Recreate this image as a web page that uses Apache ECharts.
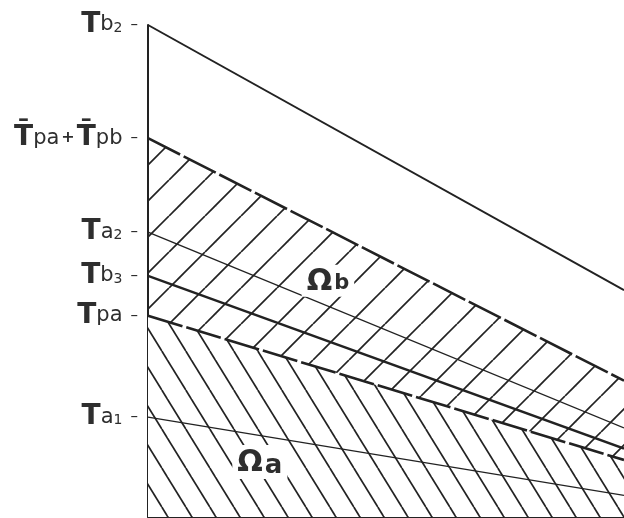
<!DOCTYPE html>
<html>
<head>
<meta charset="utf-8">
<script src="https://cdn.jsdelivr.net/npm/echarts@6/dist/echarts.min.js"></script>
<style>
  html, body { margin: 0; padding: 0; background: #ffffff; }
  #chart { width: 624px; height: 518px; }
</style>
</head>
<body>
<div id="chart"></div>
<script>
// Horizontal extent of every boundary line (start, end)
const xEnds = [0, 1];

// Boundary lines: value at the left axis and at the right end
const lineTb2    = [100.0, 46.1];
const lineTpaTpb = [77.0, 27.7];
const lineTa2    = [57.9, 18.1];
const lineTb3    = [49.0, 13.9];
const lineTpa    = [40.9, 11.6];
const lineTa1    = [20.3, 4.4];

// Tick labels on the vertical axis, in the same order as the lines above
const tickLabels = ['Tb2', 'T\u0304pa + T\u0304pb', 'Ta2', 'Tb3', 'Tpa', 'Ta1'];
const tickValues = [lineTb2[0], lineTpaTpb[0], lineTa2[0], lineTb3[0], lineTpa[0], lineTa1[0]];

// Region names and where they sit (x, y in axis units)
const regionNames = ['\u03A9b', '\u03A9a'];
const regionX = [0.378, 0.235];
const regionY = [48.0, 11.2];

const INK = '#222222';
const TEXT = '#2e2e2e';

function pairs(vals) {
  return xEnds.map((x, i) => [x, vals[i]]);
}

// Repeating hatch tile: '/' rises to the right, '\' falls to the right
function hatchTile(w, h, off, dir, bg) {
  const c = document.createElement('canvas');
  c.width = w; c.height = h;
  const g = c.getContext('2d');
  if (bg) { g.fillStyle = bg; g.fillRect(0, 0, w, h); }
  g.strokeStyle = INK;
  g.lineWidth = 1.7;
  g.lineCap = 'butt';
  for (let k = -2; k <= 2; k++) {
    const x0 = k * w + off;
    g.beginPath();
    if (dir === '/') { g.moveTo(x0, h); g.lineTo(x0 + w, 0); }
    else { g.moveTo(x0, 0); g.lineTo(x0 + w, h); }
    g.stroke();
  }
  return c;
}

const slashFill = { image: hatchTile(36, 36, 25, '/', null), repeat: 'repeat' };
const backFill = { image: hatchTile(24, 39, 17.8, '\\', '#ffffff'), repeat: 'repeat' };

// Turn "Tb2" style names into rich text: big bold T, lowercase letters, small digits
function richTick(name) {
  let out = '';
  for (let i = 0; i < name.length; i++) {
    const ch = name[i];
    if (ch === 'T') {
      let t = 'T';
      if (name[i + 1] === '\u0304') { t += '\u0304'; i++; }
      out += '{T|' + t + '}';
    } else if (ch === '+') {
      out += '{p|+}';
    } else if (ch === ' ') {
      continue;
    } else if (/[0-9]/.test(ch)) {
      out += '{n|' + ch + '}';
    } else {
      out += '{s|' + ch + '}';
    }
  }
  return out + '{d|\u2013}';
}

function lineSeries(name, vals, width, dashed) {
  return {
    name: name,
    type: 'line',
    data: pairs(vals),
    symbol: 'none',
    silent: true,
    z: 4,
    lineStyle: { color: INK, width: width, type: dashed ? [36, 4] : 'solid', cap: 'butt' }
  };
}

const chart = echarts.init(document.getElementById('chart'), null, { renderer: 'canvas' });

chart.setOption({
  animation: false,
  backgroundColor: '#ffffff',
  grid: { left: 148, right: 0, top: 25, bottom: 1, containLabel: false },
  xAxis: {
    type: 'value', min: 0, max: 1,
    splitLine: { show: false },
    axisTick: { show: false },
    axisLabel: { show: false },
    axisLine: { show: true, lineStyle: { color: INK, width: 2 } }
  },
  yAxis: {
    type: 'value', min: 0, max: 100,
    splitLine: { show: false },
    axisTick: { show: false },
    axisLine: { show: true, lineStyle: { color: INK, width: 2 } },
    axisLabel: {
      show: true,
      customValues: tickValues,
      margin: 10,
      formatter: function (v) {
        const i = tickValues.indexOf(v);
        return i >= 0 ? richTick(tickLabels[i]) : '';
      },
      rich: {
        T: { fontFamily: 'DejaVu Sans', fontWeight: 'bold', fontSize: 28, color: TEXT },
        s: { fontFamily: 'DejaVu Sans', fontSize: 21, color: TEXT },
        n: { fontFamily: 'DejaVu Sans', fontSize: 14, color: TEXT, padding: [7, 0, 0, 0] },
        p: { fontFamily: 'DejaVu Sans', fontWeight: 'bold', fontSize: 16, color: TEXT, padding: [0, 2, 0, 2] },
        d: { fontFamily: 'DejaVu Sans', fontSize: 15, color: TEXT, padding: [0, 0, 0, 8] }
      }
    }
  },
  series: [
    // Ωb band: '/' hatching up to the T̄pa + T̄pb line
    {
      name: 'bandB', type: 'line', data: pairs(lineTpaTpb), symbol: 'none', silent: true, z: 1,
      lineStyle: { width: 0 },
      areaStyle: { color: slashFill, opacity: 1 }
    },
    // Ωa: '\' hatching below the Tpa line, laid over the band
    {
      name: 'bandA', type: 'line', data: pairs(lineTpa), symbol: 'none', silent: true, z: 2,
      lineStyle: { width: 0 },
      areaStyle: { color: backFill, opacity: 1 }
    },
    lineSeries('Tb2', lineTb2, 2, false),
    lineSeries('TpaTpb', lineTpaTpb, 2.6, true),
    lineSeries('Ta2', lineTa2, 1.4, false),
    lineSeries('Tb3', lineTb3, 2.4, false),
    lineSeries('Tpa', lineTpa, 2.6, true),
    lineSeries('Ta1', lineTa1, 1.4, false),
    // Region names
    {
      name: 'regions', type: 'scatter', symbolSize: 0, silent: true, z: 6,
      itemStyle: { opacity: 1 },
      data: regionNames.map((n, i) => ({ value: [regionX[i], regionY[i]], name: n })),
      label: {
        show: true, position: 'inside',
        backgroundColor: '#ffffff', padding: [2, 5, 0, 5],
        formatter: function (p) {
          const n = p.name;
          return '{O|' + n[0] + '}{' + (n[1] === 'a' ? 'a' : 'b') + '|' + n.slice(1) + '}';
        },
        rich: {
          O: { fontFamily: 'DejaVu Sans', fontWeight: 'bold', fontSize: 30, color: TEXT },
          a: { fontFamily: 'DejaVu Sans', fontWeight: 'bold', fontSize: 26, color: TEXT, padding: [6, 0, 0, 2] },
          b: { fontFamily: 'DejaVu Sans', fontWeight: 'bold', fontSize: 21, color: TEXT, padding: [4, 0, 0, 2] }
        }
      }
    }
  ]
});
</script>
</body>
</html>
